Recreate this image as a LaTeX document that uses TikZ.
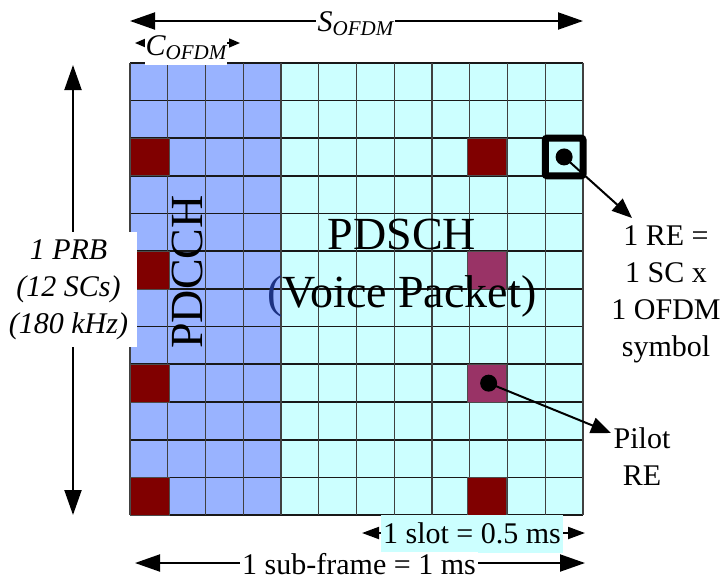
\documentclass[tikz,border=0pt]{standalone}
\usepackage{fontspec}
\setmainfont{Liberation Serif}
\usetikzlibrary{arrows.meta,calc}
\definecolor{pdcchblue}{HTML}{99B3FF}
\definecolor{pdschcyan}{HTML}{CCFFFF}
\definecolor{pilotred}{HTML}{800000}
\definecolor{pilotpurple}{HTML}{993366}
\definecolor{parenblue}{HTML}{1C3282}
\newcommand{\subOFDM}{\raisebox{-4pt}{\fontsize{21}{21}\selectfont\itshape OFDM}}
\begin{document}
\begin{tikzpicture}[x=1pt,y=-1pt,
  bigtext/.style={font=\fontsize{30}{37}\selectfont},
  hugetext/.style={font=\fontsize{46}{58}\selectfont},
  bigdim/.style={line width=2pt,{Triangle[length=25pt,width=17pt]}-{Triangle[length=25pt,width=17pt]}},
  slotdim/.style={line width=2pt,{Triangle[length=17pt,width=12pt]}-{Triangle[length=17pt,width=12pt]}},
  smalldim/.style={line width=1.5pt,{Triangle[length=11pt,width=9pt]}-{Triangle[length=11pt,width=9pt]}},
  callout/.style={line width=2pt,-{Triangle[length=20pt,width=16pt]}},
  dotnode/.style={circle,fill=black,minimum size=17pt,inner sep=0pt},
  hline/.style={line width=1.7pt,black!90},
  vline/.style={line width=1.2pt,black!75},
  pilotcell/.style={draw=black!70,line width=0.8pt}
]
\useasboundingbox (0,0) rectangle (725,579);
\def\gx{130}\def\gy{62.7}\def\cw{37.75}\def\ch{37.7}
% regions
\fill[pdschcyan] (130,62.7) rectangle (583,515);
\fill[pdcchblue] (130,62.7) rectangle (281,515);
% grid
\foreach \j in {0,...,12}{\draw[hline] (130,{\gy+\ch*\j}) -- (583,{\gy+\ch*\j});}
\foreach \i in {0,...,12}{\draw[vline] ({\gx+\cw*\i},62.7) -- ({\gx+\cw*\i},515);}
% pilot cells
\foreach \j in {2,5,8,11}{
  \fill[pilotred,pilotcell] (130,{\gy+\ch*\j}) rectangle ({\gx+\cw+2},{\gy+\ch*(\j+1)});
}
\foreach \j in {2,11}{\fill[pilotred,pilotcell] ({\gx+\cw*9-2},{\gy+\ch*\j}) rectangle ({\gx+\cw*10-1},{\gy+\ch*(\j+1)});}
\foreach \j in {5,8}{\fill[pilotpurple,pilotcell] ({\gx+\cw*9-2},{\gy+\ch*\j}) rectangle ({\gx+\cw*10-1},{\gy+\ch*(\j+1)});}
% highlighted RE
\draw[line width=7pt,rounded corners=2pt] ({\gx+\cw*11},{\gy+\ch*2}) rectangle ({\gx+\cw*12},{\gy+\ch*3});
% region labels
\node[hugetext,rotate=90,inner sep=0pt] (pdcch) at (187,272) {PDCCH};
\node[hugetext,anchor=base,inner sep=0pt] (pdsch) at (402,249) {PDSCH};
\node[hugetext,anchor=base,inner sep=0pt] (voice) at (402,307) {{\color{parenblue}(}Voice Packet)};
% dots and callouts
\node[dotnode] (redot) at ({\gx+\cw*11.5},{\gy+\ch*2.5}) {};
\node[dotnode] (pilotdot) at ({\gx+\cw*9.5},{\gy+\ch*8.5}) {};
\node[bigtext,align=center,anchor=north,inner sep=0pt] (relabel) at (666,225.5) {1 RE =\\1 SC x\\1 OFDM\\symbol};
\node[bigtext,align=center,anchor=north,inner sep=0pt] (pilotlabel) at (642,427.5) {Pilot\\RE};
\coordinate (retip) at (632,218);
\coordinate (pilottip) at (611,433);
\draw[callout] (redot.center) -- (retip);
\draw[callout] (pilotdot.center) -- (pilottip);
% top dimension S_OFDM
\coordinate (sL) at (130,21);
\coordinate (sR) at (583,21);
\draw[bigdim] (sL) -- (sR);
\node[bigtext,fill=white,anchor=base,inner xsep=2pt,inner ysep=1pt] (slabel) at (355.5,31) {\itshape S\subOFDM};
% C_OFDM
\coordinate (cL) at (135,43);
\coordinate (cR) at (240,43);
\draw[smalldim] (cL) -- (cR);
\node[bigtext,fill=white,anchor=base,inner xsep=0.5pt,inner ysep=0pt,text height=20pt,text depth=10pt] (clabel) at (186,55) {\itshape C\subOFDM};
% PRB vertical
\coordinate (pT) at (73,65);
\coordinate (pB) at (73,515);
\draw[bigdim] (pT) -- (pB);
\node[bigtext,fill=white,minimum width=137pt,minimum height=115pt,align=center,inner sep=0pt] (prb) at (68.5,289.5) {\itshape 1 PRB\\\itshape (12 SCs)\\\itshape (180 kHz)};
% slot
\coordinate (slL) at (362,533);
\coordinate (slR) at (585,533);
\draw[slotdim] (slL) -- (slR);
\node[bigtext,fill=pdschcyan,anchor=base,inner xsep=2.5pt,inner ysep=0pt,text height=28pt,text depth=10pt] (slot) at (472,543) {1 slot = 0.5 ms};
% sub-frame
\coordinate (sfL) at (135,563);
\coordinate (sfR) at (585,563);
\draw[bigdim] (sfL) -- (sfR);
\node[bigtext,fill=white,anchor=base,inner xsep=2pt,inner ysep=1pt] (subframe) at (359,574) {1 sub-frame = 1 ms};
\end{tikzpicture}
\end{document}
